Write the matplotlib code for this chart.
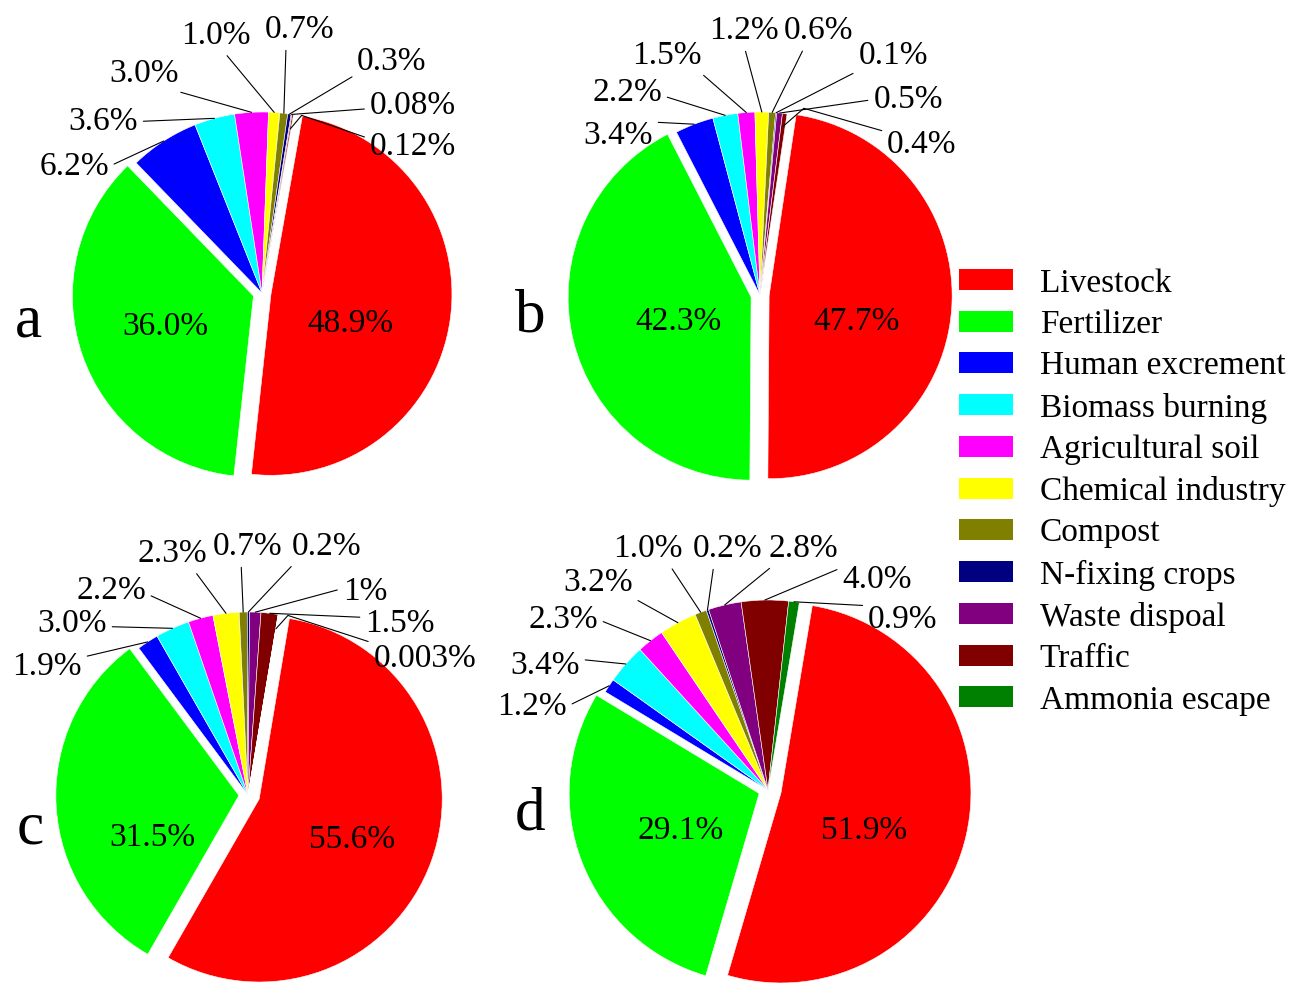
import matplotlib
matplotlib.use("Agg")
import numpy as np
import matplotlib.pyplot as plt
from matplotlib.patches import Patch

plt.rcParams["font.family"] = ["Liberation Serif", "DejaVu Serif"]

# ---- data -------------------------------------------------------------
categories = ["Livestock", "Fertilizer", "Human excrement", "Biomass burning",
              "Agricultural soil", "Chemical industry", "Compost",
              "N-fixing crops", "Waste dispoal", "Traffic", "Ammonia escape"]
colors = ["#FF0000", "#00FF00", "#0000FF", "#00FFFF", "#FF00FF", "#FFFF00",
          "#808000", "#000080", "#800080", "#800000", "#008000"]

# source shares (%) as printed, in category order
share_a = ["48.9", "36.0", "6.2", "3.6", "3.0", "1.0", "0.7", "0.3", "0.08", "0.12"]
share_b = ["47.7", "42.3", "3.4", "2.2", "1.5", "1.2", "0.6", "0.1", "0.5", "0.4"]
share_c = ["55.6", "31.5", "1.9", "3.0", "2.2", "2.3", "0.7", "0.2", "1", "1.5", "0.003"]
share_d = ["51.9", "29.1", "1.2", "3.4", "2.3", "3.2", "1.0", "0.2", "2.8", "4.0", "0.9"]

# ---- layout -----------------------------------------------------------
W, H = 1292, 986
FS = 24

panels = [
    dict(name="a", shares=share_a, center=(262, 293), radius=181, start=80.0,
         explode=(0.05, 0.05), letter=(28, 337),
         big=[(0.486, -0.149), (-0.536, -0.166)],
         small=[(-1.039, 0.718), (-0.878, 0.967), (-0.652, 1.232), (-0.254, 1.442),
                (0.21, 1.475), (0.718, 1.298), (0.834, 1.055), (0.834, 0.829)],
         rel=[(1, 0.5), (1, 0.5), (0.85, 0), (0.6, 0), (0.3, 0), (0, 0.1),
              (0, 0.4), (0, 0.75)],
         elbow=(0.92, 161, 50)),
    dict(name="b", shares=share_b, center=(760, 295), radius=183, start=81.5,
         explode=(0.05, 0.05), letter=(530, 332),
         big=[(0.53, -0.126), (-0.443, -0.126)],
         small=[(-0.776, 0.891), (-0.727, 1.126), (-0.508, 1.328), (-0.087, 1.464),
                (0.322, 1.464), (0.727, 1.328), (0.809, 1.087), (0.885, 0.842)],
         rel=[(0.9, 0.95), (1, 0.4), (0.95, 0), (0.5, 0), (0.3, 0), (0, 0),
              (0, 0.5), (0, 0.9)],
         elbow=(0.93, 164, 41)),
    dict(name="c", shares=share_c, center=(248, 795), radius=183, start=80.5,
         explode=(0.065, 0.05), letter=(30, 843),
         big=[(0.568, -0.224), (-0.525, -0.213)],
         small=[(-1.098, 0.721), (-0.962, 0.956), (-0.749, 1.137), (-0.415, 1.339),
                (0.0, 1.377), (0.432, 1.377), (0.639, 1.131), (0.831, 0.956),
                (0.967, 0.765)],
         rel=[(1, 0.8), (1, 0.4), (1, 0.4), (0.8, 0), (0.4, 0), (0.05, 0),
              (0, 0.6), (0, 0.7), (0, 1)],
         elbow=(0.92, 162, 48)),
    dict(name="d", shares=share_d, center=(768, 790), radius=190, start=80.5,
         explode=(0.07, 0.05), letter=(530, 830),
         big=[(0.505, -0.195), (-0.458, -0.195)],
         small=[(-1.242, 0.458), (-1.174, 0.674), (-1.079, 0.916), (-0.895, 1.111),
                (-0.632, 1.289), (-0.211, 1.289), (0.184, 1.289), (0.574, 1.126),
                (0.71, 0.916)],
         rel=[(1, 0.5), (1, 0.7), (1, 0.5), (1, 0), (0.8, 0), (0.3, 0), (0.1, 0),
              (0, 0.9), (0, 0.95)],
         elbow=None),
]

fig = plt.figure(figsize=(W / 100, H / 100), dpi=100)
L = 1.75

for p in panels:
    cx, cy = p["center"]
    r = p["radius"]
    ax = fig.add_axes([(cx - L * r) / W, (H - cy - L * r) / H,
                       2 * L * r / W, 2 * L * r / H])
    vals = [float(s) for s in p["shares"]]
    n = len(vals)
    explode = list(p["explode"]) + [0.0] * (n - 2)
    wedges, _ = ax.pie(vals, colors=colors[:n], startangle=p["start"],
                       counterclock=False, explode=explode,
                       wedgeprops=dict(edgecolor="white", linewidth=0.4))
    ax.set_xlim(-L, L)
    ax.set_ylim(-L, L)
    ax.set_aspect("equal")
    ax.axis("off")

    # the two dominant sources are labelled inside their wedges
    for i in range(2):
        u, v = p["big"][i]
        ax.text(u, v, p["shares"][i] + "%", ha="center", va="center_baseline",
                fontsize=FS)

    # minor sources get leader lines
    for k, i in enumerate(range(2, n)):
        w = wedges[i]
        mid = np.deg2rad(0.5 * (w.theta1 + w.theta2))
        reach = 1.0
        conn = "arc3"
        if p["elbow"] is not None and i == n - 1:
            reach, angA, angB = p["elbow"]
            conn = f"angle,angleA={angA},angleB={angB},rad=0"
        x0 = w.center[0] + reach * np.cos(mid)
        y0 = w.center[1] + reach * np.sin(mid)
        u, v = p["small"][k]
        ax.annotate(p["shares"][i] + "%", xy=(x0, y0), xytext=(u, v),
                    ha="center", va="center_baseline", fontsize=FS,
                    annotation_clip=False,
                    arrowprops=dict(arrowstyle="-", color="black", lw=0.8,
                                    shrinkA=2, shrinkB=0, relpos=p["rel"][k],
                                    connectionstyle=conn))

    lx, ly = p["letter"]
    fig.text(lx / W, 1 - ly / H, p["name"], ha="center", va="baseline",
             fontsize=44)

handles = [Patch(facecolor=c, edgecolor="none") for c in colors]
fig.legend(handles, categories, loc="upper left",
           bbox_to_anchor=(959 / W, 1 - 268 / H), frameon=False, fontsize=FS,
           handlelength=1.62, handleheight=0.6, handletextpad=0.8,
           labelspacing=0.33, borderpad=0, borderaxespad=0)

fig.savefig("out.png", dpi=100, facecolor="white")
